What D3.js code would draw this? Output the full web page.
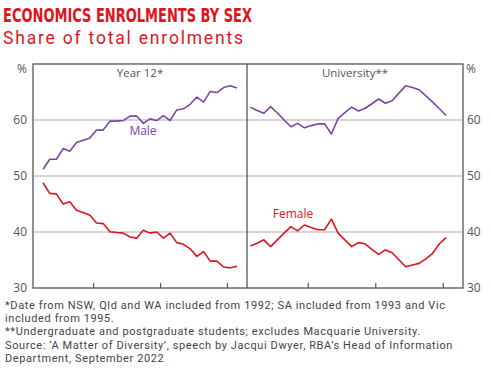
<!DOCTYPE html>
<html><head><meta charset="utf-8">
<script src="https://cdn.jsdelivr.net/npm/d3@7"></script>
<style>
html,body{margin:0;padding:0;background:#fff;}
svg{display:block;}
</style></head>
<body>
<svg id="chart" width="491" height="384"></svg>
<script>
// ---- data ----
const year12Years = d3.range(1992, 2022);
const year12Male = [51.2,53.0,53.0,54.9,54.4,56.0,56.4,56.8,58.2,58.2,59.8,59.8,59.9,60.7,60.7,59.4,60.2,59.9,60.8,59.9,61.8,62.0,62.8,64.1,63.2,65.1,64.9,65.8,66.1,65.7];
const year12Female = [48.8,46.9,46.8,45.0,45.4,43.9,43.5,43.0,41.6,41.5,40.05,39.9,39.8,39.1,38.9,40.3,39.8,40.0,38.9,39.8,38.1,37.8,37.0,35.65,36.5,34.8,34.8,33.75,33.6,33.9];
const uniYears = d3.range(1991, 2021);
const uniMale = [62.3,61.7,61.2,62.4,61.25,60.0,58.8,59.4,58.6,59.0,59.3,59.3,57.5,60.3,61.3,62.3,61.6,62.1,62.9,63.75,63.0,63.45,64.8,66.1,65.8,65.4,64.3,63.2,62.0,60.8];
const uniFemale = [37.5,38.0,38.6,37.4,38.6,39.8,40.95,40.2,41.25,40.8,40.4,40.4,42.3,39.8,38.6,37.4,38.1,37.9,36.9,36.0,36.8,36.3,35.05,33.8,34.1,34.4,35.2,36.2,37.9,39.0];
const yTicks = [30,40,50,60];
const xTicks = [2000,2010,2020];
const panelTitles = ["Year 12*","University**"];
const titleText = "ECONOMICS ENROLMENTS BY SEX";
const subtitleText = "Share of total enrolments";
const footnotes = [
  "*Date from NSW, Qld and WA included from 1992; SA included from 1993 and Vic",
  "included from 1995.",
  "**Undergraduate and postgraduate students; excludes Macquarie University.",
  "Source: \u2018A Matter of Diversity\u2019, speech by Jacqui Dwyer, RBA\u2019s Head of Information",
  "Department, September 2022"
];

// ---- layout ----
const svg = d3.select("#chart");
const RED = "#e1141d", PURPLE = "#7a45a3", FRAME = "#555", GRID = "#ababab", TXT = "#555";
const font = "'Open Sans', 'Noto Sans', sans-serif";
const plotTop = 64, plotBottom = 288;
const panels = [
  {x0: 33, x1: 247, years: year12Years, male: year12Male, female: year12Female, title: panelTitles[0]},
  {x0: 247, x1: 463, years: uniYears, male: uniMale, female: uniFemale, title: panelTitles[1]}
];
const y = d3.scaleLinear().domain([30,70]).range([plotBottom, plotTop]);

function fitSpacing(sel, target) {
  const node = sel.node();
  const w = node.getComputedTextLength();
  const n = node.textContent.length;
  sel.attr("letter-spacing", Math.max(0, (target - w) / (n - 1)));
}

// title
svg.append("text").attr("x", 3).attr("y", 22)
  .attr("font-family", "'Liberation Sans Narrow','DejaVu Sans Condensed',sans-serif")
  .attr("font-weight", "bold").attr("font-size", 19.5).attr("fill", RED)
  .attr("textLength", 249).attr("lengthAdjust", "spacingAndGlyphs")
  .text(titleText);
const sub = svg.append("text").attr("x", 3).attr("y", 44)
  .attr("font-family", "Roboto, 'Liberation Sans', sans-serif").attr("font-size", 17.5).attr("fill", RED)
  .text(subtitleText);
fitSpacing(sub, 240);

// gridlines
const g = svg.append("g");
yTicks.filter(t => t > 30).forEach(t => {
  g.append("line").attr("x1", 33).attr("x2", 463).attr("y1", y(t)).attr("y2", y(t))
    .attr("stroke", GRID).attr("stroke-width", 1);
});

// y tick labels left & right
const yAxisL = d3.axisLeft(y).tickValues(yTicks).tickSize(0).tickPadding(6);
const gl = svg.append("g").attr("transform", "translate(33,0)").call(yAxisL);
const yAxisR = d3.axisRight(y).tickValues(yTicks).tickSize(0).tickPadding(4);
const gr = svg.append("g").attr("transform", "translate(463,0)").call(yAxisR);
[gl, gr].forEach(a => {
  a.select(".domain").remove();
  a.selectAll("text").attr("font-family", font).attr("font-size", 12).attr("fill", TXT);
});
svg.append("text").attr("x", 27).attr("y", 73).attr("text-anchor", "end")
  .attr("font-family", font).attr("font-size", 12).attr("fill", TXT).text("%");
svg.append("text").attr("x", 466).attr("y", 73)
  .attr("font-family", font).attr("font-size", 12).attr("fill", TXT).text("%");

panels.forEach((p, i) => {
  const x = d3.scaleLinear().domain([1991, 2023]).range([p.x0, p.x1]);
  const xAxis = d3.axisBottom(x).tickValues(xTicks).tickSize(-5).tickFormat("");
  const ax = svg.append("g").attr("transform", `translate(0,${plotBottom})`).call(xAxis);
  ax.select(".domain").remove();
  ax.selectAll("line").attr("stroke", FRAME).attr("stroke-width", 1.2);

  const line = d3.line().x((d, k) => x(p.years[k] + 0.5)).y(d => y(d));
  svg.append("path").datum(p.male).attr("d", line).attr("fill", "none")
    .attr("stroke", PURPLE).attr("stroke-width", 1.6).attr("stroke-linejoin", "round");
  svg.append("path").datum(p.female).attr("d", line).attr("fill", "none")
    .attr("stroke", RED).attr("stroke-width", 1.6).attr("stroke-linejoin", "round");

  svg.append("text").attr("x", (p.x0 + p.x1) / 2).attr("y", 77).attr("text-anchor", "middle")
    .attr("font-family", font).attr("font-size", 11.5).attr("fill", TXT).text(p.title);
});

// frame
svg.append("rect").attr("x", 33).attr("y", plotTop).attr("width", 430).attr("height", plotBottom - plotTop)
  .attr("fill", "none").attr("stroke", FRAME).attr("stroke-width", 1.3);
svg.append("line").attr("x1", 247).attr("x2", 247).attr("y1", plotTop).attr("y2", plotBottom)
  .attr("stroke", FRAME).attr("stroke-width", 1.3);

// series labels
svg.append("text").attr("x", 143).attr("y", 135).attr("text-anchor", "middle")
  .attr("font-family", font).attr("font-size", 12).attr("fill", PURPLE).text("Male");
svg.append("text").attr("x", 293).attr("y", 218).attr("text-anchor", "middle")
  .attr("font-family", font).attr("font-size", 12).attr("fill", RED).text("Female");

// footnotes
const fnFont = "Roboto, 'Liberation Sans', sans-serif";
const fnSel = footnotes.map((t, i) => svg.append("text").attr("x", 5).attr("y", 309 + i * 13.2)
    .attr("font-family", fnFont).attr("font-size", 11).attr("fill", "#444").text(t));
const w0 = fnSel[0].node().getComputedTextLength();
const ls = Math.max(0, (440 - w0) / (footnotes[0].length - 1));
fnSel.forEach(s => s.attr("letter-spacing", ls));
</script>
</body></html>
